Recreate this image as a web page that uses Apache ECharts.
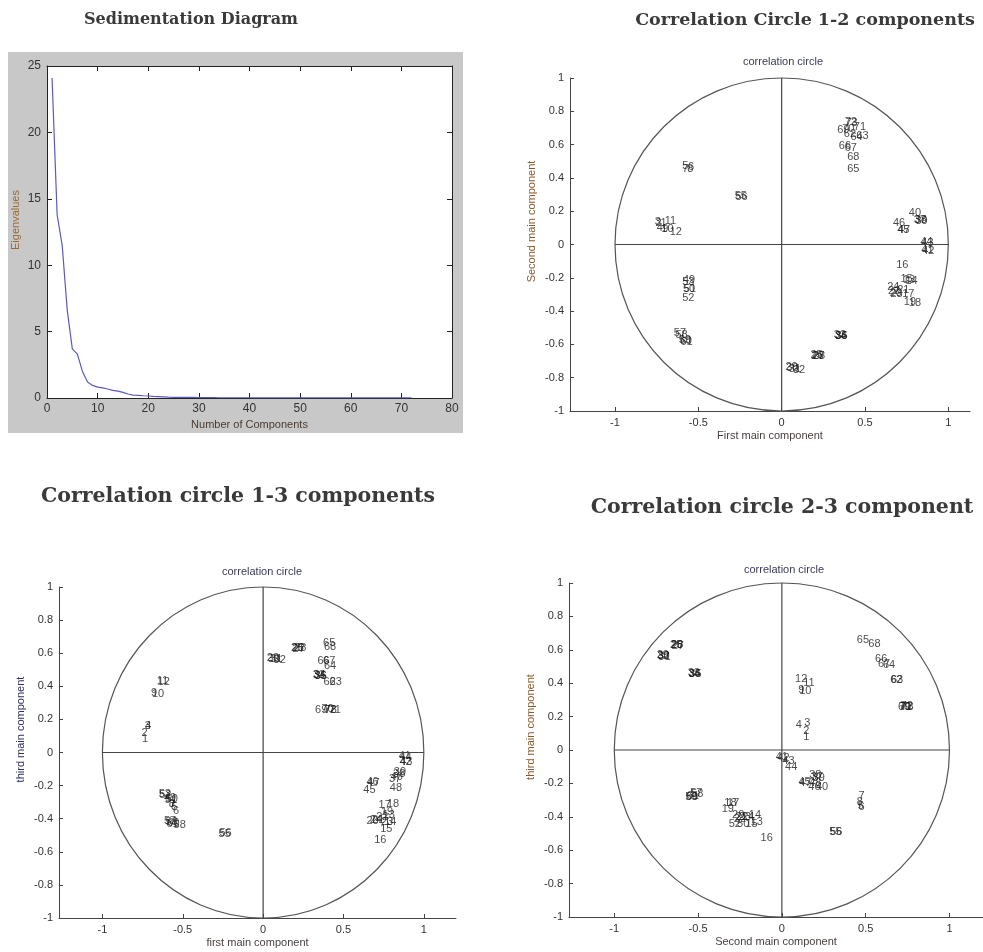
<!DOCTYPE html>
<html><head><meta charset="utf-8">
<script src="https://cdn.jsdelivr.net/npm/echarts@6/dist/echarts.min.js"></script>
<style>html,body{margin:0;padding:0;background:#fff}#c{width:983px;height:952px}</style>
</head><body><div id="c"></div>
<script>
// ---------- data ----------
const componentNumbers = Array.from({length: 72}, (_, i) => i + 1);
const eigenvalues = [24.1, 13.8, 11.5, 6.6, 3.7, 3.3, 2.0, 1.2, 0.95, 0.82, 0.76, 0.68,
  0.58, 0.52, 0.42, 0.30, 0.22, 0.20, 0.17, 0.15, 0.12, 0.10, 0.08, 0.06, 0.05, 0.05,
  0.04, 0.04, 0.04, 0.03, 0.03, 0.03, 0.03, 0.02, 0.02, 0.02, 0.02, 0.02, 0.02, 0.02,
  0.01, 0.01, 0.01, 0.01, 0.01, 0.01, 0.01, 0.01, 0.01, 0.01, 0.01, 0.01, 0.01, 0.01,
  0.01, 0.01, 0.01, 0.01, 0.01, 0.01, 0.01, 0.01, 0.01, 0.01, 0.01, 0.01, 0.01, 0.01,
  0.01, 0.01, 0.01, 0.01];

// [variable label, x, y]
const circle12 = [
  ['5',-0.60,0.47],['6',-0.565,0.465],['7',-0.60,0.455],['8',-0.57,0.452],
  ['55',-0.285,0.29],['56',-0.28,0.285],
  ['3',-0.765,0.135],['2',-0.76,0.13],['1',-0.73,0.13],['4',-0.752,0.098],
  ['11',-0.705,0.14],['9',-0.72,0.092],['10',-0.725,0.095],['12',-0.675,0.075],
  ['49',-0.595,-0.215],['53',-0.60,-0.225],['50',-0.595,-0.265],['51',-0.59,-0.27],['52',-0.60,-0.32],
  ['57',-0.65,-0.53],['58',-0.64,-0.545],['59',-0.62,-0.575],['60',-0.615,-0.58],['61',-0.61,-0.585],
  ['29',0.02,-0.738],['30',0.025,-0.742],['31',0.04,-0.745],['32',0.065,-0.755],
  ['25',0.17,-0.665],['26',0.175,-0.668],['27',0.18,-0.67],['28',0.185,-0.672],
  ['33',0.31,-0.545],['34',0.315,-0.548],['35',0.32,-0.55],['36',0.318,-0.548],
  ['72',0.375,0.735],['73',0.38,0.73],['69',0.33,0.69],['70',0.36,0.695],['71',0.43,0.705],
  ['62',0.37,0.665],['64',0.41,0.645],['63',0.445,0.65],['66',0.34,0.59],['67',0.375,0.58],
  ['68',0.39,0.526],['65',0.39,0.456],
  ['40',0.76,0.19],['37',0.79,0.15],['38',0.795,0.145],['39',0.80,0.14],
  ['46',0.665,0.13],['45',0.69,0.09],['47',0.695,0.085],
  ['44',0.83,0.015],['43',0.835,0.01],['41',0.835,-0.035],['42',0.84,-0.04],
  ['16',0.684,-0.12],['15',0.71,-0.21],['13',0.725,-0.215],['14',0.74,-0.22],
  ['24',0.63,-0.255],['22',0.635,-0.28],['20',0.645,-0.29],['23',0.65,-0.295],
  ['21',0.69,-0.272],['17',0.72,-0.30],['19',0.73,-0.345],['18',0.76,-0.35]
];
const circle13 = [
  ['11',-0.665,0.43],['12',-0.66,0.427],['9',-0.70,0.36],['10',-0.695,0.356],
  ['3',-0.74,0.16],['4',-0.738,0.158],['2',-0.76,0.115],['1',-0.757,0.079],
  ['29',0.02,0.57],['30',0.025,0.568],['31',0.04,0.565],['32',0.062,0.558],
  ['25',0.17,0.632],['26',0.175,0.63],['27',0.18,0.628],['28',0.19,0.63],
  ['65',0.37,0.66],['68',0.375,0.64],['66',0.335,0.552],['67',0.37,0.552],['64',0.375,0.52],
  ['33',0.305,0.47],['34',0.31,0.467],['35',0.315,0.465],['36',0.318,0.46],
  ['62',0.373,0.427],['63',0.41,0.427],
  ['69',0.32,0.26],['70',0.36,0.262],['72',0.375,0.26],['73',0.38,0.258],['71',0.405,0.26],
  ['53',-0.653,-0.25],['52',-0.65,-0.255],['49',-0.62,-0.275],['50',-0.61,-0.28],['51',-0.615,-0.285],
  ['8',-0.59,-0.31],['7',-0.585,-0.32],['5',-0.575,-0.33],['6',-0.564,-0.352],
  ['57',-0.62,-0.415],['59',-0.61,-0.42],['60',-0.60,-0.425],['61',-0.605,-0.43],['58',-0.56,-0.44],
  ['55',-0.28,-0.49],['56',-0.275,-0.488],
  ['41',0.84,-0.02],['44',0.845,-0.03],['42',0.845,-0.055],['43',0.85,-0.06],
  ['39',0.81,-0.115],['38',0.805,-0.13],['40',0.79,-0.145],['37',0.78,-0.16],['48',0.785,-0.215],
  ['46',0.64,-0.18],['47',0.645,-0.185],['45',0.62,-0.228],
  ['17',0.715,-0.318],['18',0.767,-0.314],['19',0.73,-0.36],['13',0.74,-0.38],
  ['20',0.64,-0.415],['24',0.66,-0.41],['21',0.675,-0.41],['22',0.70,-0.39],['23',0.73,-0.42],
  ['14',0.75,-0.42],['15',0.725,-0.46],['16',0.688,-0.53]
];
const circle23 = [
  ['25',-0.67,0.63],['26',-0.665,0.626],['27',-0.66,0.62],['28',-0.665,0.63],
  ['29',-0.75,0.57],['30',-0.745,0.566],['31',-0.74,0.56],['32',-0.745,0.565],
  ['33',-0.565,0.46],['34',-0.56,0.458],['35',-0.555,0.455],['36',-0.56,0.456],
  ['65',0.444,0.656],['68',0.513,0.636],['66',0.553,0.545],['67',0.57,0.515],['64',0.60,0.51],
  ['62',0.643,0.42],['63',0.648,0.418],
  ['69',0.69,0.26],['70',0.695,0.258],['71',0.70,0.26],['72',0.705,0.262],['73',0.71,0.258],
  ['12',0.076,0.426],['11',0.125,0.40],['9',0.095,0.36],['10',0.10,0.356],
  ['4',0.08,0.152],['3',0.13,0.16],['2',0.125,0.116],['1',0.125,0.08],
  ['41',-0.04,-0.04],['42',-0.03,-0.05],['43',0.0,-0.064],['44',0.016,-0.104],
  ['38',0.16,-0.148],['39',0.18,-0.165],['37',0.17,-0.16],['45',0.096,-0.19],['47',0.10,-0.195],
  ['46',0.155,-0.224],['48',0.16,-0.20],['40',0.20,-0.224],
  ['57',-0.55,-0.26],['58',-0.545,-0.265],['59',-0.58,-0.284],['60',-0.575,-0.28],['61',-0.57,-0.275],
  ['18',-0.346,-0.32],['17',-0.33,-0.318],['19',-0.362,-0.354],
  ['20',-0.30,-0.39],['21',-0.28,-0.40],['22',-0.29,-0.41],['23',-0.26,-0.40],['24',-0.24,-0.40],
  ['14',-0.20,-0.39],['13',-0.19,-0.428],['52',-0.32,-0.444],['50',-0.27,-0.444],['15',-0.22,-0.444],
  ['16',-0.13,-0.528],
  ['7',0.454,-0.274],['8',0.444,-0.31],['5',0.45,-0.335],['6',0.454,-0.344],
  ['55',0.28,-0.49],['56',0.285,-0.492]
];

const circleTicksX = [-1, -0.5, 0, 0.5, 1];
const circleRadius = 1;
const crossH = [[-1, 0], [1, 0]];
const crossV = [[0, -1], [0, 1]];

// ---------- styles ----------
const sans = '"Liberation Sans", Arial, sans-serif';
const tickLabel = {color: '#333', fontSize: 11, fontFamily: sans};
const axLine = {onZero: false, lineStyle: {color: '#444', width: 1}};

function circleAxes(gi, xName, yName, yNameColor) {
  return {
    x: {
      type: 'value', gridIndex: gi, min: -1.27, max: gi === 1 ? 1.13 : 1.2,
      axisLine: axLine, splitLine: {show: false},
      axisTick: {show: true, inside: true, length: 4, customValues: circleTicksX, lineStyle: {color: '#444'}},
      axisLabel: Object.assign({customValues: circleTicksX, margin: 6}, tickLabel),
      name: xName, nameLocation: 'middle', nameGap: 19,
      nameTextStyle: {color: '#4a4040', fontSize: 11, fontFamily: sans}
    },
    y: {
      type: 'value', gridIndex: gi, min: -1, max: 1, interval: 0.2,
      axisLine: axLine, splitLine: {show: false},
      axisTick: {show: true, inside: true, length: 4, lineStyle: {color: '#444'}},
      axisLabel: Object.assign({margin: 6}, tickLabel),
      name: yName, nameLocation: 'middle', nameGap: 33,
      nameTextStyle: {color: yNameColor, fontSize: 11, fontFamily: sans, padding: [0, 0, 0, 46]}
    }
  };
}

const a1 = circleAxes(1, 'First main component', 'Second main component', '#8a5a2a');
const a2 = circleAxes(2, 'first main component', 'third main component', '#2e2e62');
const a3 = circleAxes(3, 'Second main component', 'third main component', '#8a5a2a');

function circleSeries(gi, arr) {
  return [
    {
      type: 'custom', xAxisIndex: gi + 1, yAxisIndex: gi + 1, silent: true, clip: false,
      data: [[0, 0]],
      renderItem: function (params, api) {
        const c = api.coord([0, 0]);
        const e = api.coord([circleRadius, circleRadius]);
        return {type: 'ellipse', shape: {cx: c[0], cy: c[1], rx: e[0] - c[0], ry: c[1] - e[1]},
          style: {fill: null, stroke: '#555', lineWidth: 1.2}};
      }
    },
    {type: 'line', xAxisIndex: gi + 1, yAxisIndex: gi + 1, data: crossH, symbol: 'none', silent: true,
      lineStyle: {color: '#444', width: 1.2}},
    {type: 'line', xAxisIndex: gi + 1, yAxisIndex: gi + 1, data: crossV, symbol: 'none', silent: true,
      lineStyle: {color: '#444', width: 1.2}},
    {
      type: 'scatter', xAxisIndex: gi + 1, yAxisIndex: gi + 1, silent: true,
      symbolSize: 1, itemStyle: {color: 'rgba(0,0,0,0)'},
      data: arr.map(d => [d[1], d[2], d[0]]),
      labelLayout: {hideOverlap: false},
      label: {show: true, position: 'right', distance: 0, formatter: p => p.value[2],
        color: '#1a1a1a', fontSize: 11, fontFamily: sans}
    }
  ];
}

const titleFontSed = 'bold 16px "DejaVu Serif", serif';
const titleFontTop = 'bold 17.5px "DejaVu Serif", serif';
const titleFontBottom = 'bold 20.5px "DejaVu Serif", serif';
const frame = {onZero: false, lineStyle: {color: '#222'}};
const option = {
  animation: false,
  backgroundColor: '#fff',
  grid: [
    {left: 47, top: 66, width: 405, height: 332, show: true, backgroundColor: '#fff', borderWidth: 0},
    {left: 570, top: 78, width: 400, height: 333},
    {left: 59, top: 587, width: 397, height: 331},
    {left: 569, top: 583, width: 414, height: 334}
  ],
  xAxis: [
    {type: 'value', gridIndex: 0, min: 0, max: 80, interval: 10,
      axisLine: frame, splitLine: {show: false},
      axisTick: {inside: true, length: 5, lineStyle: {color: '#222'}},
      axisLabel: Object.assign({margin: 5}, tickLabel, {fontSize: 12}),
      name: 'Number of Components', nameLocation: 'middle', nameGap: 21,
      nameTextStyle: {color: '#4a3a30', fontSize: 11, fontFamily: sans}},
    a1.x, a2.x, a3.x,
    {type: 'value', gridIndex: 0, position: 'top', min: 0, max: 80, interval: 10,
      axisLine: frame, splitLine: {show: false},
      axisTick: {inside: true, length: 5, lineStyle: {color: '#222'}}, axisLabel: {show: false}}
  ],
  yAxis: [
    {type: 'value', gridIndex: 0, min: 0, max: 25, interval: 5,
      axisLine: frame, splitLine: {show: false},
      axisTick: {inside: true, length: 5, lineStyle: {color: '#222'}},
      axisLabel: Object.assign({margin: 6}, tickLabel, {fontSize: 12}),
      name: 'Eigenvalues', nameLocation: 'middle', nameGap: 26,
      nameTextStyle: {color: '#9a6a30', fontSize: 11, fontFamily: sans, padding: [0, 0, 0, 24]}},
    a1.y, a2.y, a3.y,
    {type: 'value', gridIndex: 0, position: 'right', min: 0, max: 25, interval: 5,
      axisLine: frame, splitLine: {show: false},
      axisTick: {inside: true, length: 5, lineStyle: {color: '#222'}}, axisLabel: {show: false}}
  ],
  graphic: [
    {type: 'rect', z: -10, shape: {x: 8, y: 52, width: 455, height: 381}, style: {fill: '#c8c8c8'}},
    {type: 'text', x: 191, y: 20, style: {text: 'Sedimentation Diagram', font: titleFontSed, fill: '#3a3a3a', align: 'center', verticalAlign: 'middle'}},
    {type: 'text', x: 805, y: 20, style: {text: 'Correlation Circle 1-2 components', font: titleFontTop, fill: '#3a3a3a', align: 'center', verticalAlign: 'middle'}},
    {type: 'text', x: 238, y: 497, style: {text: 'Correlation circle 1-3 components', font: titleFontBottom, fill: '#3a3a3a', align: 'center', verticalAlign: 'middle'}},
    {type: 'text', x: 782, y: 508, style: {text: 'Correlation circle 2-3 component', font: titleFontBottom, fill: '#3a3a3a', align: 'center', verticalAlign: 'middle'}},
    {type: 'text', x: 783, y: 62, style: {text: 'correlation circle', font: '11px ' + sans, fill: '#3a3a5a', align: 'center', verticalAlign: 'middle'}},
    {type: 'text', x: 262, y: 572, style: {text: 'correlation circle', font: '11px ' + sans, fill: '#3a3a5a', align: 'center', verticalAlign: 'middle'}},
    {type: 'text', x: 784, y: 570, style: {text: 'correlation circle', font: '11px ' + sans, fill: '#3a3a5a', align: 'center', verticalAlign: 'middle'}}
  ],
  series: [
    {type: 'line', xAxisIndex: 0, yAxisIndex: 0, symbol: 'none', silent: true,
      data: componentNumbers.map((c, i) => [c, eigenvalues[i]]),
      lineStyle: {color: '#5a5ac0', width: 1.2}}
  ].concat(circleSeries(0, circle12), circleSeries(1, circle13), circleSeries(2, circle23))
};

const chart = echarts.init(document.getElementById('c'), null, {renderer: 'canvas'});
chart.setOption(option);
</script>
</body></html>
